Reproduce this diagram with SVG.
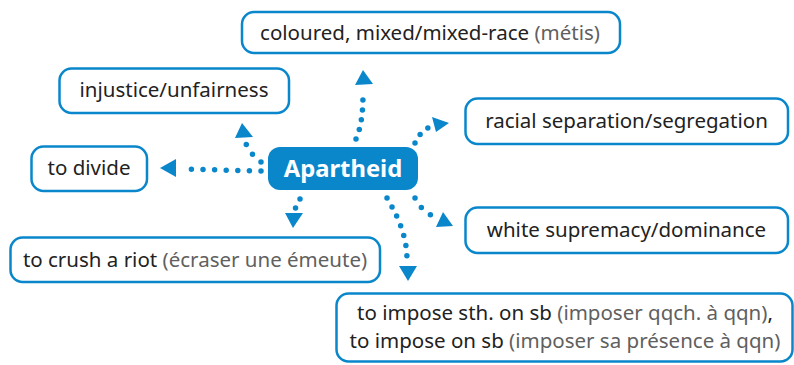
<svg xmlns="http://www.w3.org/2000/svg" width="794" height="365" viewBox="0 0 794 365">
  <style>
    .box { fill: #ffffff; stroke: #0a87cb; stroke-width: 2.5; }
    .hub { fill: #0a87cb; }
    .t { font-family: "Noto Sans", "Open Sans", sans-serif; font-size: 20.5px; fill: #222222; text-anchor: middle; }
    .g { fill: #606060; }
    .hubt { font-family: "Noto Sans", "Open Sans", sans-serif; font-size: 23.8px; font-weight: bold; fill: #ffffff; text-anchor: middle; }
    .dots { fill: none; stroke: #0a87cb; stroke-width: 5.5; stroke-linecap: round; }
    .head { fill: #0a87cb; }
  </style>

  <!-- connectors: dotted lines with triangular heads -->
  <g id="connectors">
    <path class="dots" stroke-dasharray="0 10" d="M356,139 C362,125 363,110 363,91"/>
    <polygon class="head" points="363,70 355,85 373,84"/>

    <path class="dots" stroke-dasharray="0 11.5" d="M261,162 Q251,155 246,144"/>
    <polygon class="head" points="242,123 235,138 253,137"/>

    <path class="dots" stroke-dasharray="0 11.6" d="M261,171 L180,169"/>
    <polygon class="head" points="160,168 176,159 176,177"/>

    <path class="dots" stroke-dasharray="0 10" d="M415,143 Q419,133 428,128"/>
    <polygon class="head" points="449,123 432,117 436,132"/>

    <path class="dots" stroke-dasharray="0 11.5" d="M415,198 Q420,209 431,215"/>
    <polygon class="head" points="453,226 443,212 436,227"/>

    <path class="dots" stroke-dasharray="0 10.3" d="M387,198 C397,215 407,235 407,260"/>
    <polygon class="head" points="408,281 399,266 417,266"/>

    <path class="dots" stroke-dasharray="0 10" d="M300,199 L295,209"/>
    <polygon class="head" points="293,228 285,213 303,213"/>
  </g>

  <g id="hub">
    <rect class="hub" x="268" y="147" width="150" height="43" rx="12"/>
    <text class="hubt" x="343" y="177">Apartheid</text>
  </g>

  <g id="node-coloured">
    <rect class="box" x="242" y="12" width="378" height="41" rx="12"/>
    <text class="t" x="430" y="40">coloured, mixed/mixed-race <tspan class="g">(métis)</tspan></text>
  </g>

  <g id="node-injustice">
    <rect class="box" x="59.5" y="68.5" width="229.5" height="44.5" rx="12"/>
    <text class="t" x="174" y="97">injustice/unfairness</text>
  </g>

  <g id="node-divide">
    <rect class="box" x="31.5" y="146.5" width="115.5" height="44.5" rx="12"/>
    <text class="t" x="89" y="175">to divide</text>
  </g>

  <g id="node-racial">
    <rect class="box" x="465.5" y="98.5" width="322.5" height="45.5" rx="12"/>
    <text class="t" x="626.5" y="128">racial separation/segregation</text>
  </g>

  <g id="node-white">
    <rect class="box" x="465.5" y="207.5" width="322.5" height="45.5" rx="12"/>
    <text class="t" x="626.5" y="237">white supremacy/dominance</text>
  </g>

  <g id="node-crush">
    <rect class="box" x="10.5" y="237.5" width="369.5" height="44.5" rx="12"/>
    <text class="t" x="195" y="267">to crush a riot <tspan class="g">(écraser une émeute)</tspan></text>
  </g>

  <g id="node-impose">
    <rect class="box" x="336.5" y="293.5" width="456" height="68" rx="12"/>
    <text class="t" x="565" y="320">to impose sth. on sb <tspan class="g">(imposer qqch. à qqn)</tspan>,</text>
    <text class="t" x="565" y="348">to impose on sb <tspan class="g">(imposer sa présence à qqn)</tspan></text>
  </g>
</svg>
